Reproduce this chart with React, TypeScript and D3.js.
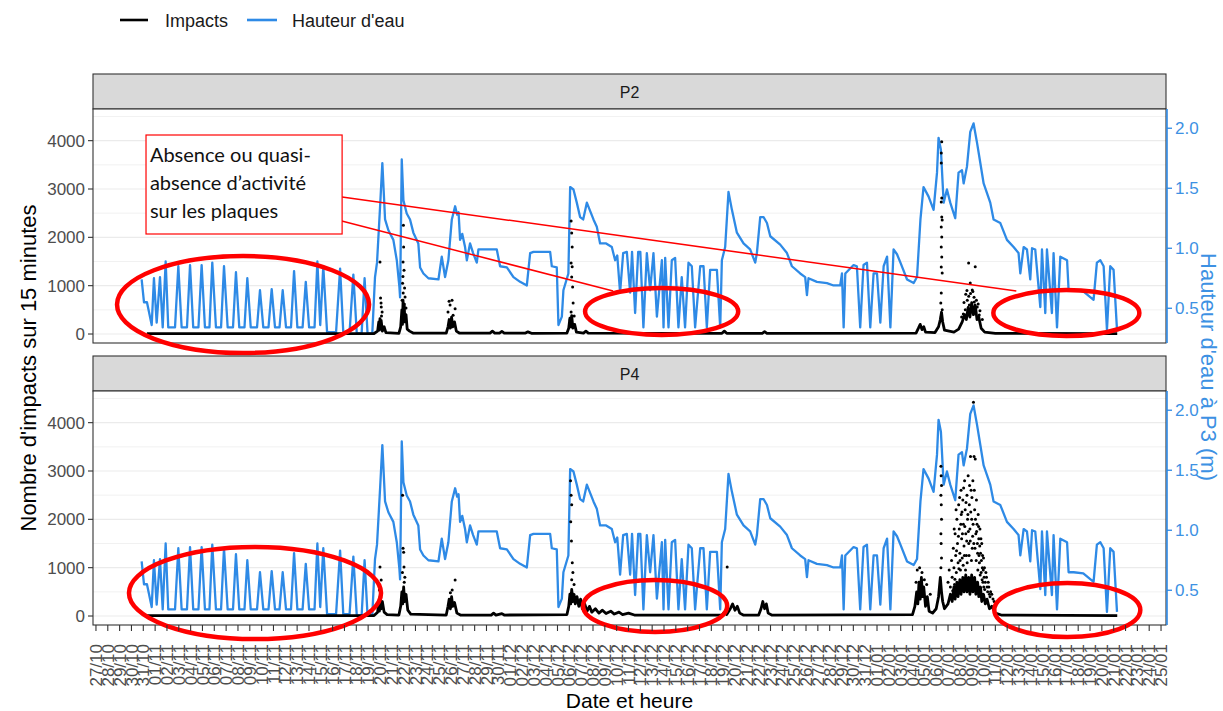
import React from "react";
import * as d3 from "d3";

const DAY_MS = 86400000;
const PERIOD_START = Date.UTC(2019, 9, 27);
const dayToDate = (d: number) => new Date(PERIOD_START + d * DAY_MS);

// Water level at P3 in metres: [days since 27/10, height]
const waterLevel: [number, number][] = [
  [3.86,0.74],[4.06,0.55],[4.31,0.55],[4.71,0.36],[4.90,0.75],[5.13,0.38],[5.41,0.76],[5.64,0.34],[5.89,0.89],[6.11,0.34],[6.68,0.34],[6.96,0.85],[7.24,0.34],[7.69,0.34],[7.95,0.86],[8.22,0.34],[8.66,0.34],[8.93,0.86],[9.21,0.34],[9.59,0.34],[9.83,0.88],[10.14,0.34],[10.57,0.34],[10.82,0.85],[11.13,0.34],[11.58,0.34],[11.83,0.80],[12.11,0.34],[12.55,0.34],[12.79,0.75],[13.08,0.34],[13.61,0.34],[13.86,0.65],[14.14,0.34],[14.58,0.34],[14.85,0.66],[15.13,0.34],[15.51,0.34],[15.78,0.65],[16.06,0.34],[16.48,0.34],[16.74,0.81],[17.02,0.34],[17.46,0.34],[17.73,0.72],[18.01,0.34],[18.47,0.34],[18.71,0.89],[18.95,0.36],[19.21,0.85],[19.53,0.30],[20.29,0.30],[20.63,0.83],[20.90,0.30],[21.43,0.30],[21.75,0.78],[22.04,0.29],[22.45,0.29],[22.7,0.75],[22.95,0.29],[23.35,0.29],[23.58,0.76],[23.75,0.88],[24.01,1.35],[24.20,1.71],[24.43,1.24],[24.71,1.15],[25.13,1.07],[25.42,0.90],[25.64,0.68],[25.70,0.59],[25.84,1.74],[25.98,1.40],[26.26,1.29],[26.54,1.24],[26.82,1.13],[27.24,1.04],[27.39,0.84],[27.67,0.79],[28.09,0.75],[28.94,0.74],[29.22,0.93],[29.50,0.76],[29.78,0.90],[30.07,1.24],[30.35,1.35],[30.52,1.28],[30.64,1.30],[30.77,1.07],[30.95,1.12],[31.19,1.01],[31.34,0.90],[31.61,1.04],[31.87,0.96],[32.18,0.88],[32.32,0.99],[33.87,0.99],[34.15,0.85],[34.72,0.84],[35.28,0.76],[35.84,0.72],[36.41,0.69],[36.69,0.96],[36.97,0.97],[38.38,0.97],[38.52,0.85],[38.94,0.84],[39.08,0.36],[39.37,0.43],[39.50,0.65],[39.92,0.79],[40.07,1.51],[40.35,1.49],[40.63,1.38],[40.91,1.26],[41.17,1.24],[41.48,1.38],[42.04,1.24],[42.32,1.18],[42.60,1.04],[43.11,1.04],[43.59,1.01],[43.87,0.90],[44.05,0.94],[44.29,0.63],[44.55,0.96],[44.86,0.97],[45.14,0.63],[45.3,0.97],[45.56,0.46],[45.82,0.97],[46.0,0.97],[46.26,0.34],[46.55,0.96],[46.83,0.65],[47.11,0.96],[47.40,0.43],
  [47.82,0.90],[47.96,0.34],[48.10,0.92],[48.38,0.34],[48.66,0.90],[48.94,0.92],[49.22,0.34],[49.50,0.76],[49.78,0.34],[50.07,0.88],[50.35,0.85],[50.63,0.34],[51.06,0.85],[51.34,0.85],[51.62,0.34],[51.90,0.82],[52.47,0.82],[52.75,0.34],[52.89,0.90],[53.17,1.01],[53.45,1.47],[53.74,1.32],[54.16,1.13],[54.72,1.04],[55.28,0.99],[55.71,0.88],[55.85,0.96],[56.13,1.26],[56.41,1.26],[56.70,1.21],[56.98,1.10],[57.82,1.03],[58.39,0.96],[58.81,0.85],[59.51,0.79],[59.93,0.76],[60.08,0.61],[60.21,0.75],[60.92,0.72],[61.77,0.71],[62.33,0.69],[62.89,0.69],[63.04,0.79],[63.18,0.34],[63.32,0.79],[64.02,0.86],[64.30,0.85],[64.58,0.34],[64.86,0.86],[65.15,0.88],[65.43,0.34],[65.71,0.79],[66.00,0.79],[66.28,0.38],[66.56,0.85],[66.85,0.93],[67.13,0.34],[67.40,0.99],[67.69,0.95],[67.98,0.88],[68.54,0.74],[69.10,0.71],[69.38,0.76],[69.67,1.24],[69.93,1.51],[70.36,1.43],[70.78,1.32],[71.07,1.63],[71.20,1.92],[71.40,1.82],[71.63,1.38],[71.91,1.49],[72.19,1.38],[72.61,1.25],[72.89,1.63],[73.18,1.65],[73.32,1.54],[73.60,1.68],[73.88,1.97],[74.16,2.04],[74.45,1.88],[74.73,1.71],[75.01,1.54],[75.57,1.38],[75.85,1.24],[76.42,1.21],[76.98,1.07],[77.54,1.01],[77.96,0.96],[78.11,0.79],[78.39,1.01],[78.67,0.99],[78.95,0.74],[79.10,1.00],[79.37,0.99],[79.80,0.51],[79.94,0.99],[80.22,0.46],[80.36,0.99],[80.78,0.46],[80.92,0.96],[81.21,0.34],[81.49,0.93],[82.06,0.90],[82.19,0.65],[82.62,0.65],[83.43,0.64],[84.30,0.57],[84.58,0.88],[84.87,0.90],[85.15,0.85],[85.43,0.32],[85.71,0.85],[85.99,0.82],[86.28,0.32],
];

// Impacts per 15 minutes, P2: dense low-level record and isolated readings
const p2Trace: [number, number][] = [
  [4.3,10],[23.5,10],[23.8,60],[23.9,250],[23.95,80],[24.0,320],[24.05,120],[24.1,280],[24.2,60],[24.35,150],[24.5,30],[25.6,15],[25.75,150],[25.85,500],[25.9,200],[25.95,700],[26.0,300],[26.05,620],[26.1,250],[26.2,400],[26.3,100],[26.5,60],[26.8,20],[29.6,20],[29.75,150],[29.85,300],[29.95,120],[30.05,350],[30.15,150],[30.3,250],[30.45,60],[30.7,20],[33.3,20],[33.5,60],[33.7,20],[34.1,20],[34.3,55],[34.5,20],[36.3,20],[36.5,45],[36.8,15],[39.8,20],[39.95,120],[40.05,330],[40.12,150],[40.2,380],[40.3,120],[40.45,200],[40.6,40],[41.2,20],[41.4,60],[41.6,20],[52.9,15],[53.1,60],[53.3,15],[56.3,15],[56.5,50],[56.7,15],[69.3,20],[69.5,120],[69.65,200],[69.8,90],[69.95,150],[70.1,40],[70.9,30],[71.2,150],[71.35,300],[71.45,450],[71.55,250],[71.7,80],[72.5,40],[72.9,100],[73.2,250],[73.4,400],[73.55,300],[73.7,550],[73.85,350],[74.0,650],[74.15,400],[74.3,600],[74.45,300],[74.6,350],[74.8,120],[75.1,40],[76,15],[86.3,10],
];
const p2Dots: [number, number][] = [
  [24.0,1490],[24.05,745],[24.09,640],[24.11,560],[24.18,455],[24.13,370],
  [25.98,2250],[26.0,1800],[25.95,1490],[26.03,1320],[25.94,1190],[25.91,1050],[26.08,950],[25.96,850],[26.12,765],[25.87,700],[26.03,620],[26.2,540],
  [29.84,680],[30.09,700],[29.92,600],[30.35,520],[29.75,455],[30.18,390],
  [40.15,2340],[40.2,2090],[40.24,1800],[40.15,1470],[40.24,1390],[40.2,1180],[40.28,970],[40.32,640],[40.15,455],[40.41,370],[40.07,290],
  [71.47,3980],[71.43,3745],[71.43,3540],[71.47,2815],[71.43,2730],[71.47,2420],[71.51,2360],[71.43,2215],[71.47,2005],[71.43,1800],[71.47,1595],[71.43,1385],[71.51,1260],[71.43,850],[71.39,640],[71.51,500],[71.43,350],
  [73.74,1470],[74.3,1390],[73.88,1055],[74.05,910],[73.63,700],[74.22,660],[73.8,600],[74.47,560],[73.46,500],[73.96,475],[73.29,415],[74.64,395],[74.3,435],
  [73.5,820],[73.6,900],[73.75,780],[73.9,840],[74.1,880],[74.2,760],[74.4,700],[74.55,620],[73.35,650],[74.7,480],[74.9,300],[73.15,350],
];

// Impacts per 15 minutes, P4
const p4Trace: [number, number][] = [
  [4.3,10],[23.5,10],[23.8,80],[23.9,300],[23.95,100],[24.0,400],[24.1,150],[24.2,300],[24.35,80],[24.6,30],[25.6,20],[25.75,200],[25.85,500],[25.92,250],[26.0,600],[26.08,300],[26.2,450],[26.35,120],[26.6,40],[29.6,20],[29.75,200],[29.85,350],[29.95,150],[30.05,400],[30.15,200],[30.3,280],[30.5,60],[30.8,20],[33.4,20],[33.6,60],[33.8,20],[34.3,50],[34.5,20],[39.8,30],[39.95,200],[40.05,450],[40.12,250],[40.2,550],[40.3,300],[40.4,450],[40.5,250],[40.65,400],[40.8,200],[40.95,350],[41.1,150],[41.3,250],[41.5,100],[41.7,200],[41.9,80],[42.2,150],[42.5,60],[42.8,120],[43.1,50],[43.5,100],[43.8,40],[44.2,80],[44.5,30],[45,60],[45.5,20],[52.9,20],[53.1,80],[53.3,30],[53.6,150],[53.8,250],[54.0,120],[54.2,200],[54.4,60],[54.7,20],[56.0,20],[56.2,150],[56.35,300],[56.5,150],[56.65,250],[56.8,60],[57.1,20],[69.0,30],[69.2,200],[69.35,500],[69.45,250],[69.55,700],[69.65,350],[69.75,800],[69.85,400],[69.95,600],[70.1,200],[70.25,400],[70.4,100],[70.7,60],[71.0,150],[71.2,400],[71.35,800],[71.45,500],[71.55,300],[71.7,150],[72.0,250],[72.2,450],[72.35,300],[72.5,600],[72.6,350],[72.75,700],[72.85,400],[73.0,750],[73.1,450],[73.25,800],[73.35,500],[73.5,850],[73.6,500],[73.75,800],[73.85,450],[74.0,850],[74.1,500],[74.25,800],[74.35,450],[74.5,700],[74.6,400],[74.75,600],[74.85,300],[75.0,450],[75.15,250],[75.3,350],[75.5,150],[75.7,200],[76.0,60],[76.5,20],[86.3,10],
];
const p4Dots: [number, number][] = [
  [24.0,1015],[24.1,745],[23.95,540],[24.05,450],
  [25.91,2500],[25.95,1400],[26.0,1320],[26.03,1015],[25.9,900],[26.1,800],[26.05,700],
  [30.35,745],[30.1,540],[29.95,480],
  [40.1,2800],[40.15,2500],[40.2,2300],[40.12,1950],[40.18,1550],[40.25,1100],[40.3,900],[40.2,750],[40.4,650],
  [53.34,1015],
  [69.4,950],[69.6,1000],[69.8,900],[70.0,750],[70.2,650],[69.3,700],[70.5,450],
  [71.4,3100],[71.42,2900],[71.45,2700],[71.4,2500],[71.43,2300],[71.45,2000],[71.4,1700],[71.42,1500],[71.45,1200],[71.4,1000],
  [72.0,700],[72.1,950],[72.2,600],[72.3,1150],[72.35,800],[72.45,1400],[72.5,1000],[72.55,650],[72.6,1700],[72.65,1250],[72.7,900],[72.75,2000],[72.8,1500],[72.85,1100],[72.9,2300],[72.95,1800],[73.0,1300],[73.05,950],[73.1,2600],[73.12,2100],[73.15,1600],[73.2,1200],[73.25,2400],[73.3,1900],[73.35,1450],[73.4,2800],[73.45,2200],[73.5,1700],[73.55,1250],[73.6,2500],[73.65,2000],[73.7,2900],[73.75,1500],[73.8,2300],[73.85,1800],[73.9,3300],[73.95,2600],[74.0,2000],[74.05,1400],[74.1,2800],[74.15,4420],[74.2,3300],[74.25,2200],[74.3,3250],[74.35,1700],[74.4,2400],[74.45,1900],[74.5,1300],[74.55,2100],[74.6,1600],[74.65,1100],[74.7,1800],[74.75,1300],[74.8,900],[74.85,1500],[74.9,1000],[74.95,700],[75.0,1200],[75.05,800],[75.1,550],[75.2,900],[75.3,600],[75.4,700],[75.5,450],[75.6,500],[75.8,350],
  [72.4,520],[72.52,1800],[72.58,760],[72.68,2200],[72.72,1350],[72.78,620],[72.88,1650],[72.92,980],[72.98,2450],[73.02,1150],[73.08,1900],[73.14,700],[73.18,2150],[73.22,1700],[73.28,1050],[73.32,2650],[73.38,1250],[73.42,1850],[73.48,950],[73.52,2350],[73.58,1550],[73.62,1100],[73.68,2100],[73.72,1750],[73.78,1250],[73.82,2700],[73.88,1550],[73.92,2150],[73.98,1150],[74.02,2450],[74.08,1650],[74.12,1900],[74.18,1500],[74.22,2600],[74.28,1400],[74.32,2000],[74.38,1150],[74.42,1750],[74.48,1500],[74.52,950],[74.58,1850],[74.62,1250],[74.68,1450],[74.72,850],[74.78,1600],[74.82,1150],[74.88,750],[74.92,1250],[74.98,950],[75.02,600],[75.08,1000],[75.15,700],[75.25,800],[75.35,500],[75.45,600],[75.55,400],[75.7,450],[75.9,300],
];

const legendItems = ["Impacts", "Hauteur d'eau"];
const impactTicks = [0, 1000, 2000, 3000, 4000];
const impactGrid = [0, 500, 1000, 1500, 2000, 2500, 3000, 3500, 4000, 4500];
const heightTicks = [0.5, 1.0, 1.5, 2.0];
const IMPACT_DOMAIN: [number, number] = [-186, 4655];

// secondary axis: water height (m) mapped onto the impacts scale
const H_OFFSET = 0.2855;
const H_SCALE = 2483;
const heightToImpacts = (h: number) => (h - H_OFFSET) * H_SCALE;

// callout annotations in data coordinates: [centre day, centre value, half-width days, half-height value]
const ellipsesP2: [number, number, number, number][] = [[12.43, 610, 10.65, 1003], [47.8, 466, 6.47, 486], [82.0, 435, 6.17, 476]];
const ellipsesP4: [number, number, number, number][] = [[13.44, 476, 10.65, 952], [47.25, 207, 6.09, 538], [82.08, 124, 6.17, 559]];
const calloutLines = ["Absence ou quasi-", "absence d\u2019activit\u00e9", "sur les plaques"];
const calloutPointers: [number, number, number, number][] = [[20.8, 2835, 77.77, 890], [19.95, 2390, 43.7, 890]];

const facets = [
  { label: "P2", trace: p2Trace, dots: p2Dots, ellipses: ellipsesP2, callout: true },
  { label: "P4", trace: p4Trace, dots: p4Dots, ellipses: ellipsesP4, callout: false },
];

const W = 1223, H = 711;
const LEFT = 93, RIGHT = 1166;
const STRIP_H = 35;
const PANEL_TOPS = [109, 391];
const PANEL_H = 234;
const BLUE = "#2e8ae6";
const BLUE_TXT = "#3d91e3";
const RED = "#ff0000";
const FONT = "'Liberation Sans', Arial, sans-serif";

export default function App() {
  const x = d3.scaleUtc().domain([dayToDate(-0.25), dayToDate(90.42)]).range([LEFT, RIGHT]);
  const dayTicks = d3.utcDay.range(dayToDate(0), dayToDate(90.5));
  const fmt = d3.utcFormat("%d/%m");
  const pxPerDay = x(dayToDate(1)) - x(dayToDate(0));

  return (
    <svg width={W} height={H} style={{ position: "absolute", left: 0, top: 0, background: "#fff" }} fontFamily={FONT}>
      {/* legend */}
      <g>
        <line x1={120} x2={148} y1={20} y2={20} stroke="#000" strokeWidth={2.6} />
        <text x={165} y={26.5} fontSize={18} fill="#1a1a1a">{legendItems[0]}</text>
        <line x1={247} x2={277} y1={20} y2={20} stroke={BLUE} strokeWidth={2.6} />
        <text x={292} y={26.5} fontSize={18} fill="#1a1a1a">{legendItems[1]}</text>
      </g>

      {facets.map((f, i) => {
        const top = PANEL_TOPS[i];
        const bottom = top + PANEL_H;
        const y = d3.scaleLinear().domain(IMPACT_DOMAIN).range([bottom, top]);
        const yH = d3.scaleLinear()
          .domain(IMPACT_DOMAIN.map((v) => v / H_SCALE + H_OFFSET))
          .range([bottom, top]);
        const water = d3.line<[number, number]>()
          .x((d) => x(dayToDate(d[0])))
          .y((d) => y(heightToImpacts(d[1])))
          .curve(d3.curveLinear)(waterLevel) || "";
        const trace = d3.line<[number, number]>()
          .x((d) => x(dayToDate(d[0])))
          .y((d) => y(d[1]))(f.trace) || "";
        const clipId = `clip-${f.label}`;
        return (
          <g key={f.label}>
            <defs>
              <clipPath id={clipId}>
                <rect x={LEFT} y={top} width={RIGHT - LEFT} height={PANEL_H} />
              </clipPath>
            </defs>
            {/* strip */}
            <rect x={LEFT} y={top - STRIP_H} width={RIGHT - LEFT} height={STRIP_H} fill="#d9d9d9" stroke="#333" strokeWidth={1.1} />
            <text x={(LEFT + RIGHT) / 2} y={top - STRIP_H / 2 + 6} fontSize={16} fill="#1a1a1a" textAnchor="middle">{f.label}</text>
            {/* panel */}
            <rect x={LEFT} y={top} width={RIGHT - LEFT} height={PANEL_H} fill="#fff" />
            {impactGrid.map((g) => (
              <line key={g} x1={LEFT} x2={RIGHT} y1={y(g)} y2={y(g)} stroke="#ebebeb" strokeWidth={g % 1000 === 0 ? 1.2 : 0.7} />
            ))}
            <g clipPath={`url(#${clipId})`}>
              <path d={water} fill="none" stroke={BLUE} strokeWidth={2.3} strokeLinejoin="round" />
              <path d={trace} fill="none" stroke="#000" strokeWidth={2.8} strokeLinejoin="round" />
              {f.dots.map((d, k) => (
                <circle key={k} cx={x(dayToDate(d[0]))} cy={y(d[1])} r={1.5} fill="#000" />
              ))}
            </g>
            <rect x={LEFT} y={top} width={RIGHT - LEFT} height={PANEL_H} fill="none" stroke="#333" strokeWidth={1.1} />
            {/* left axis */}
            {impactTicks.map((t) => (
              <g key={t}>
                <line x1={LEFT - 5} x2={LEFT} y1={y(t)} y2={y(t)} stroke="#333" strokeWidth={1.1} />
                <text x={LEFT - 8} y={y(t)} dy="0.36em" fontSize={17} fill="#4d4d4d" textAnchor="end">{t}</text>
              </g>
            ))}
            {/* right axis (water height) */}
            <line x1={RIGHT + 1} x2={RIGHT + 1} y1={top} y2={bottom} stroke={BLUE} strokeWidth={1.6} />
            {heightTicks.map((t) => (
              <g key={t}>
                <line x1={RIGHT + 1} x2={RIGHT + 6} y1={yH(t)} y2={yH(t)} stroke={BLUE} strokeWidth={1.3} />
                <text x={RIGHT + 9} y={yH(t)} dy="0.36em" fontSize={17} fill={BLUE_TXT}>{t.toFixed(1)}</text>
              </g>
            ))}
            {/* annotations */}
            {f.ellipses.map((e, k) => (
              <ellipse key={k} cx={x(dayToDate(e[0]))} cy={y(e[1])} rx={e[2] * pxPerDay} ry={y(0) - y(e[3])}
                fill="none" stroke={RED} strokeWidth={4.5} />
            ))}
            {f.callout && (
              <g>
                {calloutPointers.map((p, k) => (
                  <line key={k} x1={x(dayToDate(p[0]))} y1={y(p[1])} x2={x(dayToDate(p[2]))} y2={y(p[3])} stroke={RED} strokeWidth={1.5} />
                ))}
                <rect x={x(dayToDate(4.23))} y={y(4117)} width={x(dayToDate(20.8)) - x(dayToDate(4.23))} height={y(2069) - y(4117)}
                  fill="#fff" stroke={RED} strokeWidth={1.2} />
                {calloutLines.map((s, k) => (
                  <text key={k} x={x(dayToDate(4.56))} y={y(3565 - k * 585)} fontSize={20} fill="#111" fontFamily="Lato, 'Open Sans', sans-serif">{s}</text>
                ))}
              </g>
            )}
          </g>
        );
      })}

      {/* date axis under the lower panel */}
      {dayTicks.map((t, k) => {
        const px = x(t);
        return (
          <g key={k}>
            <line x1={px} x2={px} y1={PANEL_TOPS[1] + PANEL_H} y2={PANEL_TOPS[1] + PANEL_H + 6} stroke="#333" strokeWidth={1.1} />
            <text transform={`translate(${px},${644}) rotate(-90)`} dy="0.36em" fontSize={17} fill="#4d4d4d" textAnchor="end">{fmt(t)}</text>
          </g>
        );
      })}

      {/* axis titles */}
      <text transform={`translate(36,368) rotate(-90)`} fontSize={22} fill="#000" textAnchor="middle">Nombre d'impacts sur 15 minutes</text>
      <text transform={`translate(1201,367) rotate(90)`} fontSize={22} fill={BLUE_TXT} textAnchor="middle">Hauteur d'eau à P3 (m)</text>
      <text x={(LEFT + RIGHT) / 2} y={708} fontSize={21} fill="#000" textAnchor="middle">Date et heure</text>
    </svg>
  );
}
